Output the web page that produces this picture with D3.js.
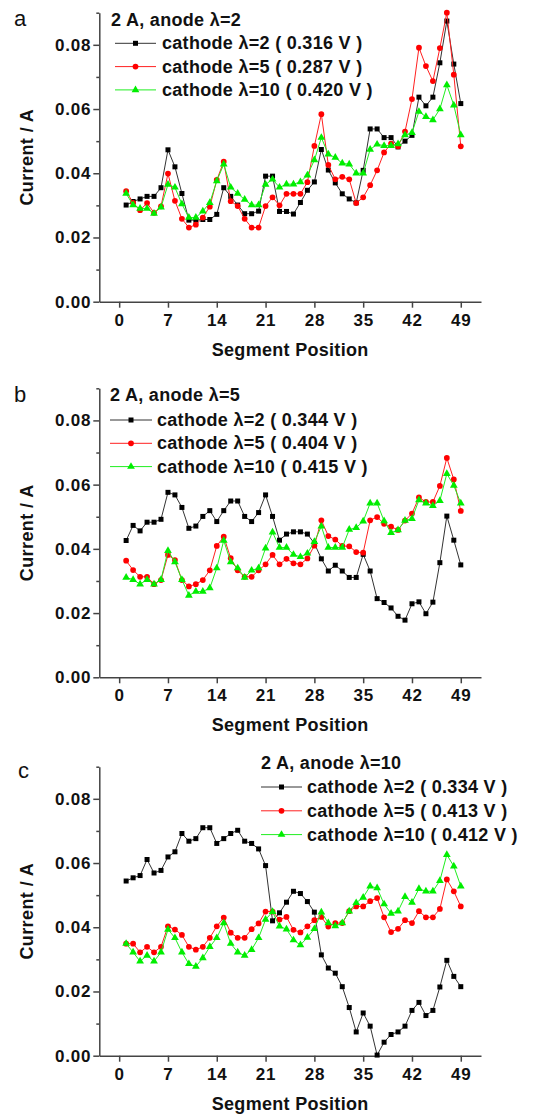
<!DOCTYPE html>
<html>
<head>
<meta charset="utf-8">
<script src="https://cdnjs.cloudflare.com/ajax/libs/d3/7.8.5/d3.min.js"></script>
<style>
    body { margin: 0; background: #fff; }
    svg text { font-family: "Liberation Sans", Arial, sans-serif; fill: #111; }
</style>
</head>
<body>
<svg id="chart" width="539" height="1114"></svg>
<script>
'use strict';

/*
    segment current distribution, three anode stoichiometries
*/

var positions = [1, 2, 3, 4, 5, 6, 7, 8, 9, 10, 11, 12, 13, 14, 15, 16, 17, 18, 19, 20,
    21, 22, 23, 24, 25, 26, 27, 28, 29, 30, 31, 32, 33, 34, 35, 36, 37, 38, 39, 40,
    41, 42, 43, 44, 45, 46, 47, 48, 49];
var xTicks = [0, 7, 14, 21, 28, 35, 42, 49];
var yTicks = [0, 0.02, 0.04, 0.06, 0.08];
var yMinorTicks = [0.01, 0.03, 0.05, 0.07, 0.09];
var seriesNames = ['cathode λ=2', 'cathode λ=5', 'cathode λ=10'];
var panelLetters = ['a', 'b', 'c'];
var panelTitles = ['2 A, anode λ=2', '2 A, anode λ=5', '2 A, anode λ=10'];

var aVolts = ['0.316', '0.287', '0.420'];
var aCathode2 = [0.0301, 0.0312, 0.0320, 0.0328, 0.0328, 0.0355, 0.0473, 0.0420, 0.0337, 0.0254,
    0.0254, 0.0256, 0.0256, 0.0272, 0.0355, 0.0328, 0.0301, 0.0274, 0.0274, 0.0282,
    0.0391, 0.0391, 0.0281, 0.0281, 0.0273, 0.0309, 0.0347, 0.0373, 0.0474, 0.0410,
    0.0370, 0.0336, 0.0320, 0.0308, 0.0409, 0.0538, 0.0538, 0.0511, 0.0511, 0.0482,
    0.0500, 0.0518, 0.0637, 0.0610, 0.0637, 0.0744, 0.0874, 0.0740, 0.0617];
var aCathode5 = [0.0344, 0.0308, 0.0285, 0.0307, 0.0277, 0.0297, 0.0399, 0.0314, 0.0258, 0.0231,
    0.0240, 0.0262, 0.0296, 0.0379, 0.0436, 0.0313, 0.0298, 0.0258, 0.0231, 0.0231,
    0.0298, 0.0325, 0.0300, 0.0336, 0.0336, 0.0336, 0.0372, 0.0485, 0.0584, 0.0426,
    0.0381, 0.0389, 0.0381, 0.0307, 0.0325, 0.0363, 0.0409, 0.0465, 0.0492, 0.0484,
    0.0530, 0.0631, 0.0791, 0.0734, 0.0687, 0.0790, 0.0900, 0.0707, 0.0484];
var aCathode10 = [0.0337, 0.0301, 0.0290, 0.0290, 0.0275, 0.0294, 0.0365, 0.0356, 0.0304, 0.0262,
    0.0262, 0.0282, 0.0308, 0.0376, 0.0428, 0.0356, 0.0337, 0.0318, 0.0301, 0.0301,
    0.0365, 0.0381, 0.0356, 0.0366, 0.0366, 0.0373, 0.0394, 0.0441, 0.0511, 0.0459,
    0.0449, 0.0431, 0.0428, 0.0400, 0.0400, 0.0474, 0.0490, 0.0486, 0.0486, 0.0491,
    0.0519, 0.0526, 0.0592, 0.0576, 0.0566, 0.0600, 0.0675, 0.0612, 0.0519];

var bVolts = ['0.344', '0.404', '0.415'];
var bCathode2 = [0.0426, 0.0473, 0.0456, 0.0483, 0.0483, 0.0492, 0.0576, 0.0568, 0.0529, 0.0464,
    0.0471, 0.0501, 0.0519, 0.0485, 0.0519, 0.0549, 0.0549, 0.0501, 0.0485, 0.0513,
    0.0568, 0.0501, 0.0427, 0.0446, 0.0453, 0.0453, 0.0446, 0.0417, 0.0369, 0.0331,
    0.0349, 0.0331, 0.0311, 0.0311, 0.0383, 0.0331, 0.0245, 0.0233, 0.0216, 0.0190,
    0.0178, 0.0229, 0.0235, 0.0198, 0.0234, 0.0357, 0.0502, 0.0427, 0.0350];
var bCathode5 = [0.0363, 0.0334, 0.0313, 0.0313, 0.0290, 0.0303, 0.0381, 0.0365, 0.0303, 0.0283,
    0.0290, 0.0303, 0.0333, 0.0409, 0.0438, 0.0371, 0.0333, 0.0313, 0.0313, 0.0333,
    0.0352, 0.0381, 0.0352, 0.0369, 0.0355, 0.0352, 0.0370, 0.0410, 0.0489, 0.0440,
    0.0429, 0.0409, 0.0408, 0.0390, 0.0388, 0.0489, 0.0499, 0.0478, 0.0469, 0.0459,
    0.0488, 0.0510, 0.0560, 0.0546, 0.0546, 0.0596, 0.0683, 0.0616, 0.0518];
var bCathode10 = [0.0311, 0.0304, 0.0290, 0.0304, 0.0290, 0.0304, 0.0394, 0.0359, 0.0304, 0.0255,
    0.0267, 0.0267, 0.0278, 0.0340, 0.0426, 0.0359, 0.0340, 0.0311, 0.0333, 0.0340,
    0.0402, 0.0452, 0.0404, 0.0404, 0.0382, 0.0375, 0.0386, 0.0422, 0.0470, 0.0404,
    0.0404, 0.0404, 0.0460, 0.0466, 0.0486, 0.0542, 0.0542, 0.0487, 0.0450, 0.0459,
    0.0488, 0.0494, 0.0552, 0.0542, 0.0534, 0.0550, 0.0634, 0.0597, 0.0542];

var cVolts = ['0.334', '0.413', '0.412'];
var cCathode2 = [0.0544, 0.0554, 0.0561, 0.0611, 0.0569, 0.0577, 0.0619, 0.0635, 0.0692, 0.0668,
    0.0676, 0.0710, 0.0710, 0.0661, 0.0676, 0.0692, 0.0702, 0.0668, 0.0661, 0.0644,
    0.0592, 0.0420, 0.0445, 0.0478, 0.0512, 0.0505, 0.0480, 0.0447, 0.0314, 0.0273,
    0.0257, 0.0215, 0.0150, 0.0074, 0.0133, 0.0092, 0.0002, 0.0042, 0.0066, 0.0074,
    0.0092, 0.0141, 0.0166, 0.0125, 0.0141, 0.0214, 0.0297, 0.0247, 0.0215];
var cCathode5 = [0.0349, 0.0349, 0.0322, 0.0339, 0.0322, 0.0339, 0.0403, 0.0393, 0.0376, 0.0339,
    0.0330, 0.0339, 0.0367, 0.0403, 0.0430, 0.0383, 0.0367, 0.0367, 0.0394, 0.0412,
    0.0449, 0.0449, 0.0424, 0.0432, 0.0392, 0.0384, 0.0403, 0.0422, 0.0432, 0.0402,
    0.0413, 0.0413, 0.0450, 0.0465, 0.0465, 0.0481, 0.0491, 0.0431, 0.0385, 0.0395,
    0.0422, 0.0413, 0.0450, 0.0431, 0.0431, 0.0457, 0.0549, 0.0512, 0.0465];
var cCathode10 = [0.0349, 0.0322, 0.0294, 0.0312, 0.0294, 0.0322, 0.0393, 0.0367, 0.0322, 0.0286,
    0.0278, 0.0304, 0.0339, 0.0367, 0.0413, 0.0349, 0.0322, 0.0312, 0.0330, 0.0367,
    0.0424, 0.0448, 0.0403, 0.0394, 0.0360, 0.0345, 0.0368, 0.0395, 0.0447, 0.0413,
    0.0404, 0.0413, 0.0450, 0.0476, 0.0493, 0.0528, 0.0522, 0.0472, 0.0443, 0.0450,
    0.0495, 0.0477, 0.0520, 0.0512, 0.0512, 0.0545, 0.0626, 0.0590, 0.0528];

/* look of the three series */
var seriesColors = ['#000000', '#ff0000', '#00ee00'];
var lineColors = ['#333333', '#ff2020', '#20ee20'];
var seriesSymbols = [d3.symbolSquare, d3.symbolCircle, d3.symbolTriangle];
var symbolSizes = [25, 26, 26];

/* page layout, one entry per panel */
var layout = [
    { top: 12.7, letterX: 14, letterY: 26, titleX: 111, titleY: 26, lineX0: 115, lineX1: 156, textX: 162, rowY: 43.3, rowStep: 23.3 },
    { top: 388.3, letterX: 14, letterY: 401.5, titleX: 110, titleY: 401, lineX0: 110, lineX1: 152, textX: 157, rowY: 420, rowStep: 23.3 },
    { top: 766.7, letterX: 18, letterY: 778, titleX: 261, titleY: 769, lineX0: 261, lineX1: 302, textX: 307, rowY: 787, rowStep: 23.8 }
];
var plotHeight = 289;
var axisLeftX = 99.3;
var axisRightX = 481;

var panels = [
    { values: [aCathode2, aCathode5, aCathode10], volts: aVolts },
    { values: [bCathode2, bCathode5, bCathode10], volts: bVolts },
    { values: [cCathode2, cCathode5, cCathode10], volts: cVolts }
];

var svg = d3.select('#chart');

var x = d3.scaleLinear()
    .domain([-2.85, 51.9])
    .range([axisLeftX, axisRightX]);

panels.forEach(function(panel, p) {
    var L = layout[p];
    var bottom = L.top + plotHeight;

    var y = d3.scaleLinear()
        .domain([0, 0.09])
        .range([bottom, L.top]);

    var g = svg.append('g');

    /* y axis, minor ticks first so the major ones sit over them */
    g.append('g')
        .attr('transform', 'translate(' + axisLeftX + ',0)')
        .call(d3.axisLeft(y).tickValues(yMinorTicks).tickSize(3).tickSizeOuter(0).tickFormat(''))
        .call(function(a) { a.select('.domain').remove(); });

    var yAxis = g.append('g')
        .attr('transform', 'translate(' + axisLeftX + ',0)')
        .call(d3.axisLeft(y).tickValues(yTicks).tickSize(6).tickSizeOuter(0).tickPadding(2)
            .tickFormat(d3.format('.2f')));

    var xAxis = g.append('g')
        .attr('transform', 'translate(0,' + bottom + ')')
        .call(d3.axisBottom(x).tickValues(xTicks).tickSize(6).tickSizeOuter(0).tickPadding(6));

    [yAxis, xAxis].forEach(function(a) {
        a.attr('font-size', null).attr('font-family', null);
        a.selectAll('path, line').attr('stroke', '#444').attr('stroke-width', 1.5);
        a.selectAll('text')
            .attr('fill', '#111')
            .style('font-size', '17px')
            .style('font-weight', 'bold')
            .style('letter-spacing', '0.8px');
    });
    g.selectAll('.tick line').attr('stroke', '#444').attr('stroke-width', 1.5);

    /* axis titles */
    g.append('text')
        .attr('transform', 'translate(33,' + (L.top + plotHeight / 2) + ') rotate(-90)')
        .attr('text-anchor', 'middle')
        .style('font-size', '18px')
        .style('font-weight', 'bold')
        .style('letter-spacing', '0.4px')
        .text('Current / A');

    g.append('text')
        .attr('x', (axisLeftX + axisRightX) / 2)
        .attr('y', bottom + 54)
        .attr('text-anchor', 'middle')
        .style('font-size', '18px')
        .style('font-weight', 'bold')
        .style('letter-spacing', '0.3px')
        .text('Segment Position');

    g.append('text')
        .attr('x', L.letterX)
        .attr('y', L.letterY)
        .style('font-size', '22px')
        .text(panelLetters[p]);

    /* series */
    panel.values.forEach(function(vals, s) {
        var pts = positions.map(function(pos, i) {
            return [pos, vals[i]];
        });

        var line = d3.line()
            .x(function(d) { return x(d[0]); })
            .y(function(d) { return y(d[1]); });

        g.append('path')
            .datum(pts)
            .attr('fill', 'none')
            .attr('stroke', lineColors[s])
            .attr('stroke-width', 1)
            .attr('d', line);

        g.selectAll('.mk' + s)
            .data(pts)
            .enter()
            .append('path')
            .attr('class', 'mk' + s)
            .attr('transform', function(d) {
                return 'translate(' + x(d[0]) + ',' + y(d[1]) + ')';
            })
            .attr('fill', seriesColors[s])
            .attr('d', d3.symbol().type(seriesSymbols[s]).size(symbolSizes[s]));
    });

    /* legend */
    g.append('text')
        .attr('x', L.titleX)
        .attr('y', L.titleY)
        .style('font-size', '18px')
        .style('font-weight', 'bold')
        .style('letter-spacing', '0.3px')
        .text(panelTitles[p]);

    seriesNames.forEach(function(name, s) {
        var ry = L.rowY + s * L.rowStep;
        g.append('line')
            .attr('x1', L.lineX0)
            .attr('x2', L.lineX1)
            .attr('y1', ry)
            .attr('y2', ry)
            .attr('stroke', lineColors[s])
            .attr('stroke-width', 1);
        g.append('path')
            .attr('transform', 'translate(' + ((L.lineX0 + L.lineX1) / 2) + ',' + ry + ')')
            .attr('fill', seriesColors[s])
            .attr('d', d3.symbol().type(seriesSymbols[s]).size(symbolSizes[s]));
        g.append('text')
            .attr('x', L.textX)
            .attr('y', ry + 6)
            .style('font-size', '18px')
            .style('font-weight', 'bold')
            .style('letter-spacing', '0.3px')
            .text(name + ' ( ' + panel.volts[s] + ' V )');
    });
});
</script>
</body>
</html>
